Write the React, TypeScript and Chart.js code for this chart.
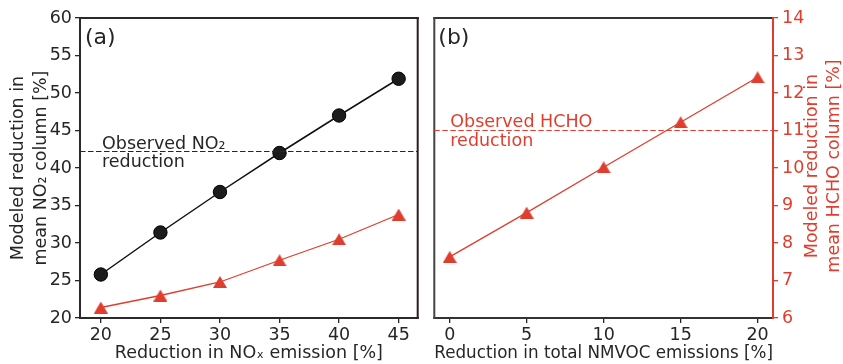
import React, { useEffect, useRef } from 'react';
import { Chart, registerables } from 'chart.js';

Chart.register(...registerables);

// ---- data ----
const NOX_CUT = [20, 25, 30, 35, 40, 45];
const NO2_RED_A = [25.8, 31.4, 36.8, 42.0, 47.0, 51.9];
const HCHO_RED_A = [21.4, 23.0, 24.8, 27.7, 30.5, 33.8];
const VOC_CUT = [0, 5, 10, 15, 20];
const HCHO_RED_B = [7.63, 8.81, 10.02, 11.22, 12.42];
const OBS_NO2 = 42.2;
const OBS_HCHO = 11.0;
const Y_TICKS_A = [20, 25, 30, 35, 40, 45, 50, 55, 60];
const Y_TICKS_B = [6, 7, 8, 9, 10, 11, 12, 13, 14];

const FONT = "'DejaVu Sans', sans-serif";
const FS = 17.5;
const INK = '#262626';
const RED = '#df3e2f';

function makeTriangle(color: string, w: number, h: number) {
  const c = document.createElement('canvas');
  c.width = w;
  c.height = h;
  const ctx = c.getContext('2d')!;
  ctx.fillStyle = color;
  ctx.beginPath();
  ctx.moveTo(w / 2, 0);
  ctx.lineTo(w, h);
  ctx.lineTo(0, h);
  ctx.closePath();
  ctx.fill();
  return c;
}

function framePlugin(colors: { top: string; right: string; bottom: string; left: string }) {
  return {
    id: 'frame',
    afterDatasetsDraw(chart: any) {
      const { ctx, chartArea: ca } = chart;
      ctx.save();
      ctx.lineWidth = 2;
      ctx.lineCap = 'square';
      const seg = (x1: number, y1: number, x2: number, y2: number, c: string) => {
        ctx.strokeStyle = c;
        ctx.beginPath();
        ctx.moveTo(x1, y1);
        ctx.lineTo(x2, y2);
        ctx.stroke();
      };
      seg(ca.left, ca.top, ca.right, ca.top, colors.top);
      seg(ca.left, ca.bottom, ca.right, ca.bottom, colors.bottom);
      seg(ca.left, ca.top, ca.left, ca.bottom, colors.left);
      seg(ca.right, ca.top, ca.right, ca.bottom, colors.right);
      ctx.restore();
    },
  };
}

export default function App() {
  const refA = useRef<HTMLCanvasElement>(null);
  const refB = useRef<HTMLCanvasElement>(null);

  useEffect(() => {
    const tri = makeTriangle(RED, 14, 12);
    const font = { family: FONT, size: FS };
    const tickGrid = (color: string) => ({
      display: true,
      drawOnChartArea: false,
      drawTicks: true,
      tickLength: 5,
      color,
      lineWidth: 1.3,
    });

    const annotA = {
      id: 'annotA',
      afterDraw(chart: any) {
        const { ctx, chartArea: ca, scales } = chart;
        const y = scales.y.getPixelForValue(OBS_NO2);
        ctx.save();
        ctx.strokeStyle = INK;
        ctx.lineWidth = 1.2;
        ctx.setLineDash([5.5, 2.5]);
        ctx.beginPath();
        ctx.moveTo(ca.left, y);
        ctx.lineTo(ca.right, y);
        ctx.stroke();
        ctx.setLineDash([]);
        ctx.fillStyle = INK;
        ctx.textAlign = 'left';
        ctx.textBaseline = 'alphabetic';
        ctx.font = `${FS}px ${FONT}`;
        ctx.fillText('Observed NO₂', ca.left + 22, y - 3);
        ctx.fillText('reduction', ca.left + 22, y + 15);
        ctx.font = `22px ${FONT}`;
        ctx.fillText('(a)', ca.left + 5, ca.top + 26);
        ctx.font = `${FS}px ${FONT}`;
        ctx.textAlign = 'center';
        ctx.translate(22.5, (ca.top + ca.bottom) / 2);
        ctx.rotate(-Math.PI / 2);
        ctx.fillText('Modeled reduction in', 0, 0);
        ctx.fillText('mean NO₂ column [%]', 0, 23.5);
        ctx.restore();
      },
    };

    const annotB = {
      id: 'annotB',
      afterDraw(chart: any) {
        const { ctx, chartArea: ca, scales } = chart;
        const y = scales.y.getPixelForValue(OBS_HCHO);
        ctx.save();
        ctx.strokeStyle = RED;
        ctx.lineWidth = 1.2;
        ctx.setLineDash([5.5, 2.5]);
        ctx.beginPath();
        ctx.moveTo(ca.left, y);
        ctx.lineTo(ca.right, y);
        ctx.stroke();
        ctx.setLineDash([]);
        ctx.fillStyle = RED;
        ctx.textAlign = 'left';
        ctx.textBaseline = 'alphabetic';
        ctx.font = `${FS}px ${FONT}`;
        ctx.fillText('Observed HCHO', ca.left + 16, y - 4);
        ctx.fillText('reduction', ca.left + 16, y + 15);
        ctx.fillStyle = INK;
        ctx.font = `22px ${FONT}`;
        ctx.fillText('(b)', ca.left + 4, ca.top + 26);
        ctx.fillStyle = RED;
        ctx.font = `${FS}px ${FONT}`;
        ctx.textAlign = 'center';
        ctx.translate(chart.width - 26, (ca.top + ca.bottom) / 2 - 2);
        ctx.rotate(-Math.PI / 2);
        ctx.fillText('Modeled reduction in', 0, 0);
        ctx.fillText('mean HCHO column [%]', 0, 21.5);
        ctx.restore();
      },
    };

    const chartA = new Chart(refA.current!, {
      type: 'line',
      data: {
        datasets: [
          {
            data: NOX_CUT.map((x, i) => ({ x, y: NO2_RED_A[i] })),
            borderColor: '#111111',
            borderWidth: 1.5,
            pointStyle: 'circle',
            pointRadius: 6.7,
            pointBackgroundColor: '#1c1c1c',
            pointBorderColor: '#000000',
            pointBorderWidth: 1,
            tension: 0,
          },
          {
            data: NOX_CUT.map((x, i) => ({ x, y: HCHO_RED_A[i] })),
            borderColor: RED,
            borderWidth: 1.3,
            pointStyle: tri as any,
            pointRadius: 7,
            tension: 0,
          },
        ],
      },
      options: {
        responsive: false,
        animation: false,
        layout: { padding: { top: 18, right: 7, left: 0, bottom: 0 } },
        plugins: { legend: { display: false }, tooltip: { enabled: false } },
        scales: {
          x: {
            type: 'linear',
            min: 18.25,
            max: 46.6,
            afterBuildTicks: (s: any) => {
              s.ticks = NOX_CUT.map((v) => ({ value: v }));
            },
            afterFit: (s: any) => {
              s.height = 46;
            },
            grid: tickGrid(INK),
            border: { display: false },
            ticks: { font, color: INK, padding: 2, maxRotation: 0 },
            title: {
              display: true,
              text: 'Reduction in NOₓ emission [%]',
              font,
              color: INK,
              padding: { top: 0, bottom: 0 },
            },
          },
          y: {
            type: 'linear',
            min: 20,
            max: 60,
            afterBuildTicks: (s: any) => {
              s.ticks = Y_TICKS_A.map((v) => ({ value: v }));
            },
            afterFit: (s: any) => {
              s.width = 80;
            },
            grid: tickGrid(INK),
            border: { display: false },
            ticks: { font, color: INK, padding: 3 },
          },
        },
      } as any,
      plugins: [framePlugin({ top: '#2a2a2a', right: '#2b1b1b', bottom: '#2a2a2a', left: '#2a2a2a' }), annotA],
    });

    const chartB = new Chart(refB.current!, {
      type: 'line',
      data: {
        datasets: [
          {
            data: VOC_CUT.map((x, i) => ({ x, y: HCHO_RED_B[i] })),
            borderColor: RED,
            borderWidth: 1.3,
            pointStyle: tri as any,
            pointRadius: 7,
            tension: 0,
          },
        ],
      },
      options: {
        responsive: false,
        animation: false,
        layout: { padding: { top: 18, right: 0, left: 7, bottom: 0 } },
        plugins: { legend: { display: false }, tooltip: { enabled: false } },
        scales: {
          x: {
            type: 'linear',
            min: -1,
            max: 21,
            afterBuildTicks: (s: any) => {
              s.ticks = VOC_CUT.map((v) => ({ value: v }));
            },
            afterFit: (s: any) => {
              s.height = 46;
            },
            grid: tickGrid(INK),
            border: { display: false },
            ticks: { font, color: INK, padding: 2, maxRotation: 0 },
            title: {
              display: true,
              text: 'Reduction in total NMVOC emissions [%]',
              font,
              color: INK,
              padding: { top: 0, bottom: 0 },
            },
          },
          y: {
            type: 'linear',
            position: 'right',
            min: 6,
            max: 14,
            afterBuildTicks: (s: any) => {
              s.ticks = Y_TICKS_B.map((v) => ({ value: v }));
            },
            afterFit: (s: any) => {
              s.width = 70;
            },
            grid: tickGrid(RED),
            border: { display: false },
            ticks: { font, color: RED, padding: 4 },
          },
        },
      } as any,
      plugins: [framePlugin({ top: '#333333', right: RED, bottom: '#333333', left: '#444444' }), annotB],
    });

    return () => {
      chartA.destroy();
      chartB.destroy();
    };
  }, []);

  return (
    <div style={{ position: 'fixed', left: 0, top: 0, width: 843, height: 364, background: '#ffffff' }}>
      <canvas ref={refA} width={426} height={364} style={{ position: 'absolute', left: 0, top: 0, display: 'block' }} />
      <canvas ref={refB} width={417} height={364} style={{ position: 'absolute', left: 426, top: 0, display: 'block' }} />
    </div>
  );
}
